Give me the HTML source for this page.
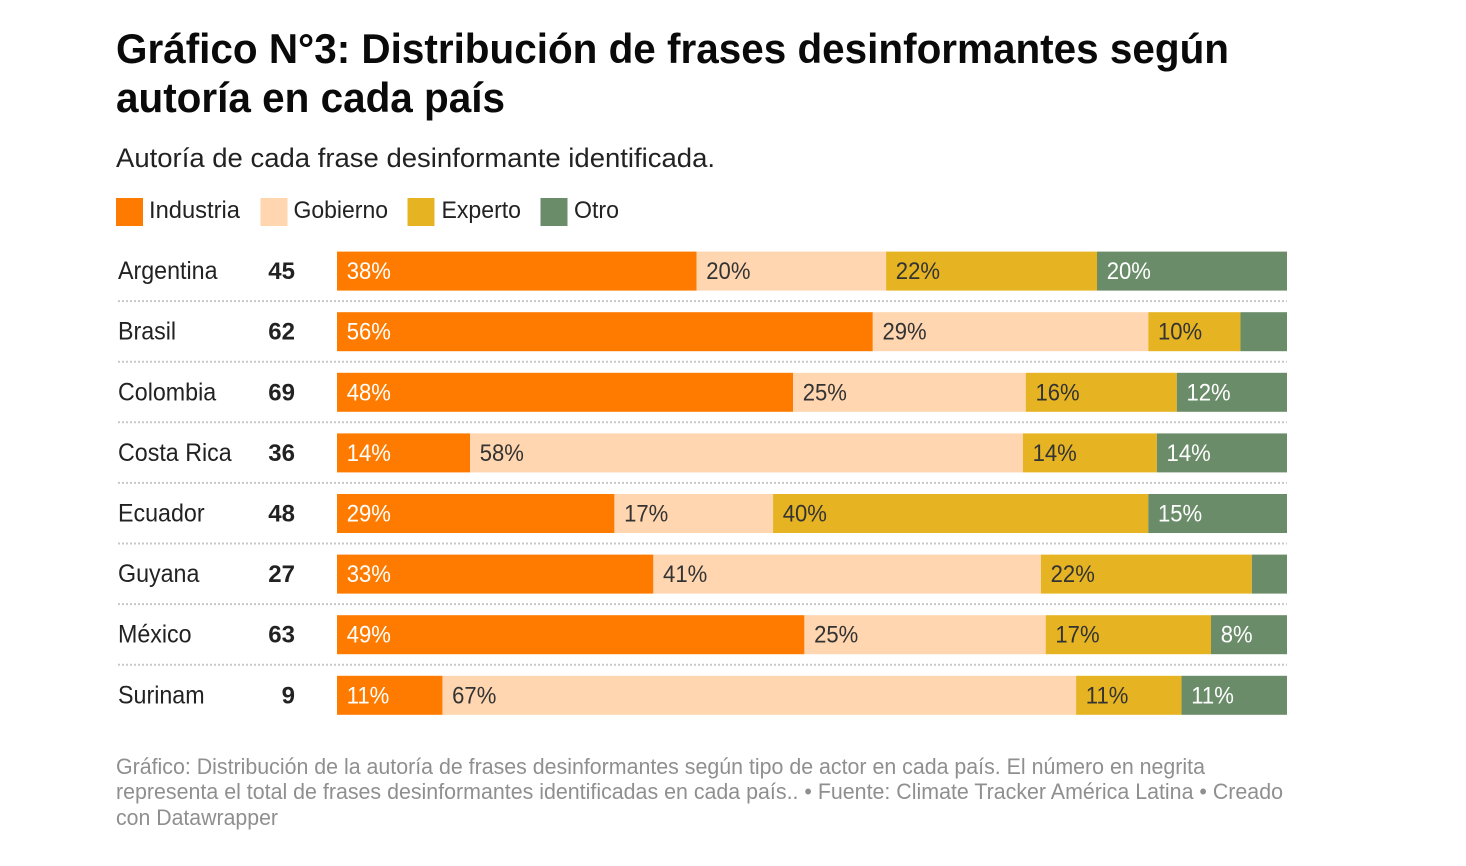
<!DOCTYPE html>
<html lang="es">
<head>
<meta charset="utf-8">
<title>Gráfico N°3</title>
<style>
html,body{margin:0;padding:0;background:#fff;width:1466px;height:866px;overflow:hidden}
svg{display:block;font-family:"Liberation Sans",sans-serif}
</style>
</head>
<body>
<svg id="chart" width="1466" height="866" viewBox="0 0 1466 866" xmlns="http://www.w3.org/2000/svg">
  <rect width="1466" height="866" fill="#fff"/>
  <g font-weight="700" font-size="42" fill="#0a0a0a">
    <text x="116" y="63" textLength="1113" lengthAdjust="spacingAndGlyphs">Gráfico N°3: Distribución de frases desinformantes según</text>
    <text x="116" y="112" textLength="389" lengthAdjust="spacingAndGlyphs">autoría en cada país</text>
  </g>
  <text x="116" y="167" font-size="27" fill="#222" textLength="599" lengthAdjust="spacingAndGlyphs">Autoría de cada frase desinformante identificada.</text>
  <g font-size="24" fill="#222">
    <g>
      <rect x="116" y="198" width="27" height="28" fill="#ff7b00"/>
      <text x="149" y="218" textLength="91" lengthAdjust="spacingAndGlyphs">Industria</text>
    </g>
    <g>
      <rect x="260.5" y="198" width="27" height="28" fill="#ffd6b0"/>
      <text x="293.5" y="218" textLength="94.5" lengthAdjust="spacingAndGlyphs">Gobierno</text>
    </g>
    <g>
      <rect x="407.5" y="198" width="27" height="28" fill="#e6b422"/>
      <text x="441.5" y="218" textLength="79.5" lengthAdjust="spacingAndGlyphs">Experto</text>
    </g>
    <g>
      <rect x="540.5" y="198" width="27" height="28" fill="#6a8c69"/>
      <text x="574" y="218" textLength="45" lengthAdjust="spacingAndGlyphs">Otro</text>
    </g>
  </g>
  <g id="rows"></g>
  <g font-size="22" fill="#8f8f8f">
    <text x="116" y="774" textLength="1089" lengthAdjust="spacingAndGlyphs">Gráfico: Distribución de la autoría de frases desinformantes según tipo de actor en cada país. El número en negrita</text>
    <text x="116" y="799" textLength="1167" lengthAdjust="spacingAndGlyphs">representa el total de frases desinformantes identificadas en cada país.. • Fuente: Climate Tracker América Latina • Creado</text>
    <text x="116" y="825" textLength="162" lengthAdjust="spacingAndGlyphs">con Datawrapper</text>
  </g>
</svg>
<script>
const countries = ["Argentina","Brasil","Colombia","Costa Rica","Ecuador","Guyana","México","Surinam"];
const totals = [45,62,69,36,48,27,63,9];
const seriesNames = ["industria","gobierno","experto","otro"];
const industria = [37.85,56.4,48,14,29.2,33.3,49.2,11.1];
const gobierno = [19.95,29,24.5,58.2,16.7,40.8,25.4,66.7];
const experto = [22.2,9.7,15.9,14.1,39.5,22.2,17.4,11.1];
const otro = [20,4.9,11.6,13.7,14.6,3.7,8,11.1];

const seriesValues = [industria,gobierno,experto,otro];
const fills = {industria:"#ff7b00",gobierno:"#ffd6b0",experto:"#e6b422",otro:"#6a8c69"};
const inks = {industria:"#ffffff",gobierno:"#333333",experto:"#333333",otro:"#ffffff"};
const NS = "http://www.w3.org/2000/svg";
const root = document.getElementById("rows");
const xScale = v => 337 + v / 100 * 950;
const rowTop = i => 251.6 + i * 60.6;
const BAR_H = 39;

function make(tag, attrs, parent, txt) {
  const el = document.createElementNS(NS, tag);
  for (const k in attrs) el.setAttribute(k, attrs[k]);
  if (txt !== undefined) el.textContent = txt;
  parent.appendChild(el);
  return el;
}
function narrow(el, k) {
  const w = el.getComputedTextLength();
  el.setAttribute("textLength", (w * k).toFixed(1));
  el.setAttribute("lengthAdjust", "spacingAndGlyphs");
}

countries.forEach((country, i) => {
  const top = rowTop(i);
  const row = make("g", {}, root);
  
  

  const label = make("text", {x:118, y:top+27.5, "font-size":25, fill:"#222"}, row, country);
  
  
  narrow(label, 0.93);

  const total = make("text", {x:295, y:top+27.5, "font-size":24, "font-weight":700, fill:"#222", "text-anchor":"end"}, row, totals[i]);
  
  

  let acc = 0;
  seriesValues.forEach((values, s) => {
    const name = seriesNames[s];
    const v = values[i];
    const x0 = xScale(acc);
    const x1 = xScale(acc + v);
    acc += v;
    const bar = make("rect", {x:x0, y:top, width:x1 - x0, height:BAR_H, fill:fills[name]}, row);
    
    
    if (v >= 5) {
      const t = make("text", {x:x0 + 9.7, y:top+27.5, "font-size":24, fill:inks[name]}, row, Math.round(v) + "%");
      
      
      narrow(t, 0.92);
    }
  });

  if (i < countries.length - 1) {
    const sep = make("line", {x1:118, x2:1287, y1:top+49.5, y2:top+49.5, stroke:"#c8c8c8", "stroke-width":2, "stroke-dasharray":"2 2"}, row);
    
    
  }
});
</script>
</body>
</html>
